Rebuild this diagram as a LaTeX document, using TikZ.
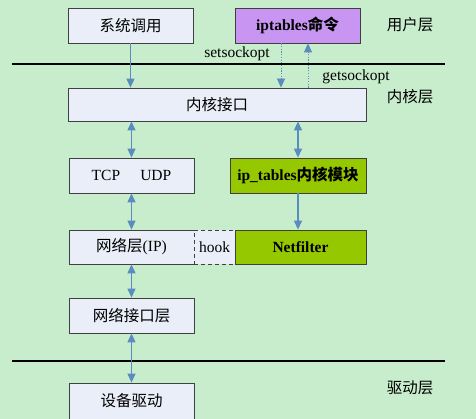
\documentclass[tikz,border=0pt]{standalone}
\usepackage{fontspec}
\setmainfont{Liberation Serif}
\newfontfamily\cjk{Noto Sans CJK SC}
\usetikzlibrary{arrows.meta}
\definecolor{bggreen}{HTML}{C8EDCC}
\definecolor{boxpale}{HTML}{EAEEF8}
\definecolor{boxviolet}{HTML}{C896F2}
\definecolor{boxgreen}{HTML}{96C800}
\definecolor{arrowblue}{HTML}{5A8CBE}
\begin{document}
\begin{tikzpicture}[x=1pt, y=-1pt,
    every node/.style={font=\fontsize{15.5}{18}\selectfont},
    layerbox/.style={draw=black!75, line width=0.8pt, fill=boxpale, minimum height=35pt, inner sep=0pt},
    flow/.style={arrowblue, line width=1.1pt, -{Triangle[length=9pt,width=8pt]}},
    both/.style={flow, {Triangle[length=9pt,width=8pt]}-{Triangle[length=9pt,width=8pt]}},
    sockflow/.style={flow, line width=0.8pt, dash pattern=on 1.2pt off 1.5pt}]
        % Background
        \fill[bggreen] (0,0) rectangle (476,419);
        \useasboundingbox (0,0) rectangle (476,419);
        % Layer lines
        \draw[line width=2pt] (12,64) -- (445,64);
        \draw[line width=2pt] (12,361) -- (445,361);
        % User space
        \node[layerbox, minimum width=125pt] (sys) at (130.5,25.5) {\cjk 系统调用};
        \node[layerbox, fill=boxviolet, minimum width=125pt] (ipt) at (297.5,25.5) {\textbf{iptables}{\cjk\bfseries 命令}};
        % Kernel space
        \node[layerbox, minimum width=298pt, minimum height=33pt] (kif) at (217,104.5) {\cjk 内核接口};
        \node[layerbox, minimum width=125pt] (tcp) at (131.5,175.5) {TCP\hspace{1.3em}UDP};
        \node[layerbox, fill=boxgreen, minimum width=136pt] (ipm) at (298,175.5) {\textbf{ip\_tables}{\cjk\bfseries 内核模块}};
        \node[layerbox, minimum width=125pt, minimum height=34pt] (net) at (131.5,247) {{\cjk 网络层}(IP)};
        \node[layerbox, dash pattern=on 4pt off 3pt, minimum width=41pt, minimum height=34pt] (hook) at (214.5,247) {hook};
        \node[layerbox, fill=boxgreen, minimum width=131pt, minimum height=34pt] (nf) at (300.5,247) {\textbf{Netfilter}};
        \node[layerbox, minimum width=125pt] (nif) at (131.5,315.5) {\cjk 网络接口层};
        % Driver
        \node[layerbox, minimum width=125pt, minimum height=36pt] (dev) at (131.5,401) {\cjk 设备驱动};
        % Layer names
        \node (user) at (410,25) {\cjk 用户层};
        \node (kern) at (410,97) {\cjk 内核层};
        \node (drv) at (410,388) {\cjk 驱动层};
        % Socket options
        \coordinate (xset) at (281,0);
        \coordinate (xget) at (308,0);
        \draw[sockflow] (xset |- ipt.south) -- (xset |- kif.north);
        \draw[sockflow] (xget |- kif.north) -- (xget |- ipt.south);
        \node (set) at (237,54) {setsockopt};
        \node (get) at (356,77) {getsockopt};
        % Flows
        \draw[flow] (sys.south) -- (sys.south |- kif.north);
        \draw[both] (tcp.north |- kif.south) -- (tcp.north);
        \draw[both] (ipm.north |- kif.south) -- (ipm.north);
        \draw[flow] (ipm.south) -- (ipm.south |- nf.north);
        \draw[both] (tcp.south) -- (net.north);
        \draw[both] (net.south) -- (nif.north);
        \draw[both] (nif.south) -- (dev.north);
      \end{tikzpicture}
\end{document}
